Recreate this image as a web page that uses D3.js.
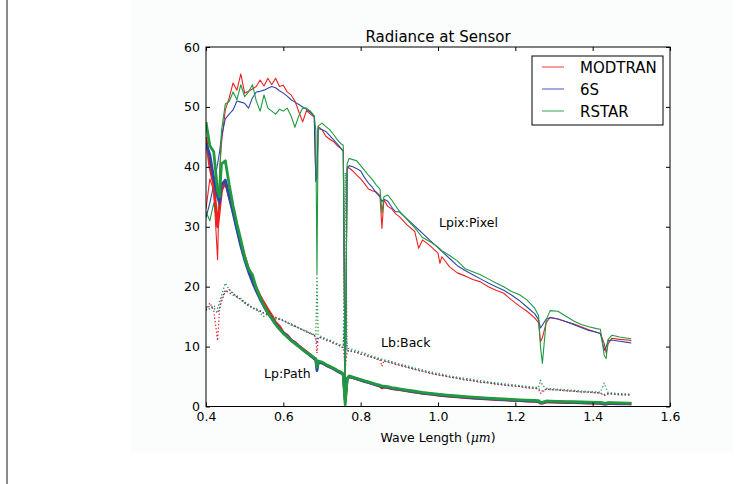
<!DOCTYPE html>
<html>
<head>
<meta charset="utf-8">
<script src="https://cdn.jsdelivr.net/npm/d3@7"></script>
<style>
  body { margin: 0; background: #fff; }
  text { font-family: "DejaVu Sans", sans-serif; fill: #000; }
</style>
</head>
<body>
<div id="chart"></div>
<script>
// wave length grid (um), shared by every series
const wl = [0.40,0.41,0.42,0.43,0.435,0.44,0.45,0.46,0.47,0.48,0.49,0.50,0.51,0.52,0.53,0.54,0.55,0.56,0.57,0.58,
  0.59,0.60,0.61,0.62,0.63,0.64,0.65,0.66,0.67,0.68,0.684,0.687,0.69,0.70,0.71,0.72,0.73,0.74,0.75,0.755,
  0.76,0.765,0.77,0.78,0.79,0.80,0.81,0.82,0.83,0.84,0.85,0.855,0.86,0.87,0.88,0.89,0.90,0.92,0.94,0.95,
  0.96,0.98,1.00,1.005,1.01,1.03,1.05,1.07,1.09,1.11,1.13,1.15,1.17,1.19,1.21,1.23,1.25,1.26,1.265,1.27,
  1.28,1.29,1.31,1.33,1.35,1.37,1.39,1.41,1.42,1.43,1.435,1.44,1.45,1.47,1.49,1.50];

// Lpix : pixel radiance
const lpixModtran = [33,38,36,24.5,39,44,49.5,51.5,54,52.8,55.5,52.3,52.6,53,53.4,54.5,53.5,54.8,53.7,54.8,
  53.4,53.6,52.5,52,51,49.2,47.5,49.4,48.8,48.3,38,38,46.7,46.2,45.1,44.6,44.2,43.5,43,42.7,
  2,40,39.8,39.3,38.6,38,37.2,36.3,36,35.8,35.2,29.7,34.5,33.4,33,32.2,31.7,30.3,29.2,26.4,
  27.8,26.8,25.6,23.9,25,23.3,22.3,21.8,21.2,20.8,20,19.4,18.9,17.8,16.8,15.9,14.8,14,10.8,11.5,
  14,14.9,14.6,14.2,13.8,13.3,12.8,12.4,12.2,10.5,8.9,10.5,11.4,11.2,11.1,11];
const lpix6s = [31.5,34,37,40.5,42.5,45,48,48.8,49.5,51,50.8,50.6,49.8,51.5,52.5,52.6,52.8,53.1,53.4,53.2,
  52.7,52.3,51.8,51.2,50.8,50.4,50,49.6,49.1,48.4,37.5,38.5,46.4,46.2,45.9,45.2,44.5,43.8,43,42.6,
  1.5,39.5,40.2,40,39.7,39.3,38.2,37.3,36.6,35.7,35,34.2,34.6,34.3,33.3,32.5,32.5,31.3,30.1,29.5,
  28.9,27.7,26.5,26.2,25.9,24.7,23.5,22.7,22,21.3,20.6,20,19.4,18.6,17.7,16.6,15.5,14.5,13.1,13.6,
  14.6,14.8,14.6,14.2,13.7,13.2,12.7,12.4,12.2,9.4,10,11,11.1,10.9,10.7,10.6];
const lpixRstar = [32.5,31,34,30,38,46,50.5,50.9,52.5,51.2,53.7,51.7,52.5,53.7,51,49.3,52,49.8,49.3,48.8,
  49.6,49.3,49.8,48.5,46.6,48.5,49.8,49.8,49.3,48.5,46,22,46.8,47.3,46.7,46.2,45.4,44.5,43.8,43.6,
  0.5,40.5,41.4,41.2,41,40.2,39.4,38.6,37.9,37,36.3,32.3,35,35.3,34.5,33.5,32.6,31.2,29.8,29,
  28.2,27.5,26.6,26.3,26,25.2,24.3,23,22.5,22,21.3,20.6,20,19.2,18.7,17.8,16.4,15.2,10,7.2,
  14.5,16,15.9,15.1,14.3,13.7,13.3,13,12.9,8.5,8,11.2,11.9,11.6,11.4,11.3];

// Lb : background radiance
const lbModtran = [16,17.3,16,11,16.2,17.5,19.2,19.5,18.8,18.5,17.9,17.5,16.8,16.6,16.1,16,15.5,15.4,14.9,14.9,
  14.5,14.4,13.9,13.8,13.3,13.2,12.7,12.6,12.1,12,11.2,8.9,11.5,11.5,11,11,10.5,10.4,9.9,9.8,
  6.5,9.1,9.4,9.1,9.1,8.7,8.7,8.3,8.3,7.9,7.8,6.7,7.6,7.4,7.3,7,6.9,6.5,6.2,6,
  5.9,5.5,5.3,5.2,5.2,4.9,4.7,4.4,4.3,4,3.95,3.7,3.6,3.4,3.35,3.1,3.05,2.9,2.2,2.4,
  2.9,2.8,2.75,2.6,2.55,2.4,2.4,2.25,2.25,1.8,1.9,2.1,2.1,1.95,1.95,1.85];
const lb6s = [16.2,16.8,16.5,15.6,16.5,18,19.4,19,18.6,18.3,17.8,17.3,16.9,16.5,16.2,15.9,15.6,15.3,15,14.8,
  14.6,14.3,14,13.7,13.4,13.1,12.8,12.5,12.2,11.9,11.5,10.5,11.6,11.4,11.1,10.9,10.6,10.3,10,9.9,
  17,9.2,9.4,9.2,9,8.8,8.6,8.4,8.2,8,7.8,7.7,7.6,7.5,7.3,7.1,6.9,6.6,6.2,6.1,
  5.9,5.6,5.3,5.25,5.2,4.95,4.7,4.5,4.3,4.1,3.95,3.8,3.6,3.5,3.35,3.2,3.05,3,2.7,2.6,
  2.9,2.85,2.75,2.65,2.55,2.45,2.4,2.3,2.25,2,2,2.15,2.1,2,1.95,1.9];
const lbRstar = [16.7,16.2,16.8,16.4,17.5,18.5,20.6,19.5,19,18.2,18,17.2,17.1,16.3,16.4,15.6,15,15.4,15.1,14.6,
  14.7,14.4,14.1,13.6,13.5,13,12.9,12.4,12.3,11.9,12,21.7,12,11.6,11.3,11.1,10.8,10.5,10.2,10.2,
  39,9.6,9.7,9.5,9.3,9.1,8.9,8.6,8.4,8.2,8,7.9,7.8,7.7,7.5,7.3,7.1,6.8,6.4,6.3,
  6.1,5.8,5.5,5.45,5.4,5.1,4.9,4.7,4.5,4.3,4.1,3.95,3.8,3.65,3.5,3.35,3.2,3.15,4.4,3.5,
  3.05,3,2.9,2.8,2.7,2.6,2.5,2.45,2.4,3.9,3,2.3,2.25,2.15,2.1,2.05];

// Lp : path radiance
const lpModtran = [45,40,37,30,33,36,37.5,35,32.8,29.8,27.3,25,22.9,21.2,19.8,18.4,17.3,16.2,15.2,14,
  13.4,12.3,11.9,11.1,10.7,10.1,9.6,9.1,8.6,8,7.8,6.6,7.4,7.3,6.9,6.6,6.3,5.9,5.6,5.3,
  1,4.6,5,4.8,4.6,4.4,4.2,4,3.8,3.6,3.4,3.1,3.25,3.15,3,2.9,2.8,2.6,2.4,2.3,
  2.2,2.05,1.9,1.85,1.83,1.7,1.6,1.5,1.4,1.32,1.25,1.17,1.1,1.03,0.97,0.91,0.85,0.82,0.55,0.55,
  0.77,0.75,0.71,0.67,0.64,0.6,0.57,0.54,0.53,0.4,0.4,0.49,0.48,0.45,0.43,0.42];
const lp6s = [44,42,38,35,34,37,37.8,35,32.3,29.5,26.8,24.5,22.5,20.8,19.3,17.9,16.7,15.6,14.7,13.8,
  13,12.3,11.7,11.1,10.6,10.1,9.5,9,8.5,8,7.8,6,7.3,7.3,6.9,6.6,6.3,5.9,5.6,5.3,
  1.3,4.6,5,4.8,4.6,4.4,4.2,4,3.8,3.6,3.45,3.3,3.3,3.2,3.05,2.95,2.85,2.65,2.45,2.35,
  2.25,2.1,1.95,1.9,1.88,1.76,1.65,1.55,1.45,1.37,1.3,1.22,1.15,1.08,1.02,0.96,0.9,0.87,0.6,0.6,
  0.82,0.8,0.76,0.72,0.69,0.65,0.62,0.59,0.58,0.45,0.45,0.54,0.53,0.5,0.48,0.47];
const lpRstar = [47.5,43.5,42.5,36,35,40.5,41,37,33.5,30.5,27.8,25,23,22,19.8,18.2,16.8,15.6,14.7,13.7,
  12.9,12.2,11.6,11,10.5,10,9.5,9,8.6,8.1,8,6.6,7.6,7.4,7,6.7,6.4,6,5.7,5.4,
  0.3,4.7,5.1,4.9,4.7,4.5,4.3,4.1,3.9,3.7,3.55,3.4,3.4,3.3,3.15,3.05,2.95,2.75,2.55,2.45,
  2.35,2.2,2.05,2,1.98,1.86,1.75,1.65,1.55,1.47,1.4,1.32,1.25,1.18,1.12,1.06,1,0.97,0.7,0.7,
  0.92,0.9,0.86,0.82,0.79,0.75,0.72,0.69,0.68,0.55,0.55,0.64,0.63,0.6,0.58,0.57];

const models = ["MODTRAN", "6S", "RSTAR"];
const colors = ["#ee2020", "#2c48a8", "#1f9a3f"];
const xTicks = [0.4, 0.6, 0.8, 1.0, 1.2, 1.4, 1.6];
const yTicks = [0, 10, 20, 30, 40, 50, 60];

var W = 747, H = 484;
var plotL = 206, plotR = 670, plotT = 47, plotB = 406.5;

var svg = d3.select("#chart").append("svg")
  .attr("width", W).attr("height", H);

// faint figure background and the grey rule at the left edge
svg.append("rect").attr("x", 131).attr("y", 0).attr("width", 602).attr("height", 453)
  .attr("fill", "#fbfcfc");
svg.append("rect").attr("x", 6).attr("y", 0).attr("width", 2).attr("height", H)
  .attr("fill", "#8a8a8a");

var x = d3.scaleLinear().domain([0.4, 1.6]).range([plotL, plotR]);
var y = d3.scaleLinear().domain([0, 60]).range([plotB, plotT]);

svg.append("rect").attr("x", plotL).attr("y", plotT)
  .attr("width", plotR - plotL).attr("height", plotB - plotT).attr("fill", "#fff");

svg.append("clipPath").attr("id", "plot")
  .append("rect").attr("x", plotL).attr("y", plotT)
  .attr("width", plotR - plotL).attr("height", plotB - plotT);

var line = d3.line().x(d => x(d[0])).y(d => y(d[1]));
var g = svg.append("g").attr("clip-path", "url(#plot)");

function draw(series, width, dash) {
  series.forEach(function (vals, i) {
    g.append("path")
      .datum(d3.zip(wl, vals))
      .attr("d", line)
      .attr("fill", "none")
      .attr("stroke", colors[i])
      .attr("stroke-width", width)
      .attr("stroke-linejoin", "round")
      .attr("stroke-dasharray", dash);
  });
}

draw([lbModtran, lb6s, lbRstar], 1.3, "1.3,2.2");
draw([lpixModtran, lpix6s, lpixRstar], 1.1, null);
draw([lpModtran, lp6s, lpRstar], 2.8, null);

// axes, ticks inward on all four sides
function styleAxis(sel) {
  sel.select(".domain").remove();
  sel.selectAll(".tick line").attr("stroke", "#000");
  sel.selectAll("text").style("font-size", "12.5px").style("font-family", "DejaVu Sans");
}
svg.append("g").attr("transform", "translate(0," + plotB + ")")
  .call(d3.axisBottom(x).tickValues(xTicks).tickFormat(d3.format(".1f")).tickSizeInner(-4).tickSizeOuter(0).tickPadding(6))
  .call(styleAxis);
svg.append("g").attr("transform", "translate(0," + plotT + ")")
  .call(d3.axisTop(x).tickValues(xTicks).tickFormat("").tickSizeInner(-4).tickSizeOuter(0))
  .call(styleAxis);
svg.append("g").attr("transform", "translate(" + plotL + ",0)")
  .call(d3.axisLeft(y).tickValues(yTicks).tickSizeInner(-4).tickSizeOuter(0).tickPadding(6))
  .call(styleAxis);
svg.append("g").attr("transform", "translate(" + plotR + ",0)")
  .call(d3.axisRight(y).tickValues(yTicks).tickFormat("").tickSizeInner(-4).tickSizeOuter(0))
  .call(styleAxis);

svg.append("rect").attr("x", plotL).attr("y", plotT)
  .attr("width", plotR - plotL).attr("height", plotB - plotT)
  .attr("fill", "none").attr("stroke", "#000").attr("stroke-width", 1);

// title and axis label
svg.append("text").attr("x", (plotL + plotR) / 2).attr("y", 42)
  .attr("text-anchor", "middle").style("font-size", "15px").text("Radiance at Sensor");

var xl = svg.append("text").attr("x", (plotL + plotR) / 2).attr("y", 442)
  .attr("text-anchor", "middle").style("font-size", "12.5px");
xl.append("tspan").text("Wave Length (");
xl.append("tspan").style("font-family", "DejaVu Serif").style("font-style", "italic").text("μm");
xl.append("tspan").text(")");

// curve annotations
svg.append("text").attr("x", 439).attr("y", 227).style("font-size", "12.5px").text("Lpix:Pixel");
svg.append("text").attr("x", 381).attr("y", 347).style("font-size", "12.5px").text("Lb:Back");
svg.append("text").attr("x", 264).attr("y", 378).style("font-size", "12.5px").text("Lp:Path");

// legend
var lg = svg.append("g");
lg.append("rect").attr("x", 532).attr("y", 56).attr("width", 131).attr("height", 69)
  .attr("fill", "#fff").attr("stroke", "#000").attr("stroke-width", 1);
models.forEach(function (m, i) {
  var ly = 67 + i * 22;
  lg.append("line").attr("x1", 542).attr("x2", 564).attr("y1", ly).attr("y2", ly)
    .attr("stroke", colors[i]).attr("stroke-width", 1.2).attr("opacity", 0.75);
  lg.append("text").attr("x", 580).attr("y", ly + 5.5).style("font-size", "15px").text(m);
});
</script>
</body>
</html>
